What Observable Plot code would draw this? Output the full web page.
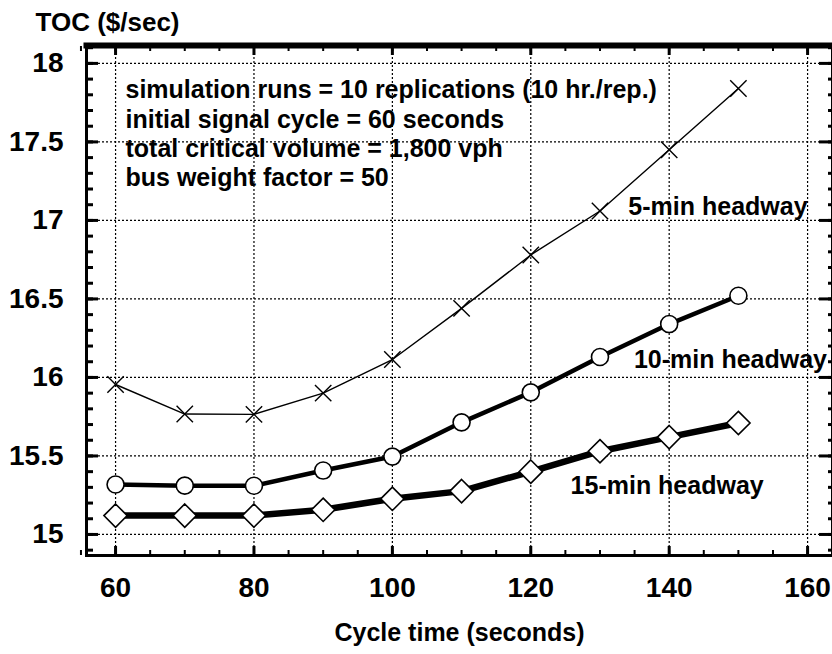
<!DOCTYPE html>
<html>
<head>
<meta charset="utf-8">
<script src="https://cdn.jsdelivr.net/npm/d3@7"></script>
<script src="https://cdn.jsdelivr.net/npm/@observablehq/plot@0.6"></script>
<style>
  html, body { margin: 0; padding: 0; background: #fff; }
  #chart svg { display: block; }
</style>
</head>
<body>
<div id="chart"></div>
<script>
// ---- data ----
const cycleTimes = [60, 70, 80, 90, 100, 110, 120, 130, 140, 150];
const toc5min  = [15.955, 15.767, 15.765, 15.90, 16.114, 16.44, 16.78, 17.06, 17.45, 17.84];
const toc10min = [15.318, 15.311, 15.31, 15.407, 15.496, 15.714, 15.905, 16.13, 16.34, 16.52];
const toc15min = [15.12, 15.12, 15.12, 15.157, 15.227, 15.276, 15.40, 15.53, 15.62, 15.71];

const seriesNames = ["5-min headway", "10-min headway", "15-min headway"];
const labelX = [134.1, 134.9, 125.75];
const labelY = [17.087, 16.108, 15.307];

const xTickLabels = [60, 80, 100, 120, 140, 160];
const yTickLabels = [15, 15.5, 16, 16.5, 17, 17.5, 18];
const noteLines = [
  "simulation runs = 10 replications (10 hr./rep.)",
  "initial signal cycle = 60 seconds",
  "total critical volume = 1,800 vph",
  "bus weight factor = 50"
];
const yTitle = "TOC ($/sec)";
const xTitle = "Cycle time (seconds)";

// ---- build rows ----
const rows5 = cycleTimes.map((x, i) => ({x, y: toc5min[i]}));
const rows10 = cycleTimes.map((x, i) => ({x, y: toc10min[i]}));
const rows15 = cycleTimes.map((x, i) => ({x, y: toc15min[i]}));
const labels = seriesNames.map((t, i) => ({t, x: labelX[i], y: labelY[i]}));

const xMinor = d3.range(55, 165, 5);
const yMinor = d3.range(149, 182, 1).map(d => d / 10);

const font = "'Liberation Sans', Arial, Helvetica, sans-serif";
const txt = {fontFamily: font, fontWeight: "bold", fill: "#000"};

const chart = Plot.plot({
  width: 832,
  height: 654,
  marginLeft: 86,
  marginRight: 0,
  marginTop: 45,
  marginBottom: 99,
  style: {fontFamily: font, fontWeight: "bold", background: "#fff", color: "#000"},
  x: {domain: [55.8, 163.6]},
  y: {domain: [14.866, 18.114]},
  marks: [
    Plot.gridX(xTickLabels, {stroke: "#000", strokeOpacity: 1, strokeWidth: 1.2, strokeDasharray: "2,2"}),
    Plot.gridY(yTickLabels, {stroke: "#000", strokeOpacity: 1, strokeWidth: 1.2, strokeDasharray: "2,2"}),
    // minor ticks (inward)
    Plot.axisX({anchor: "bottom", ticks: xMinor, tickSize: -5, strokeWidth: 2, text: null, label: null}),
    Plot.axisX({anchor: "top", ticks: xMinor, tickSize: -5, strokeWidth: 2, text: null, label: null}),
    Plot.axisY({anchor: "left", ticks: yMinor, tickSize: -7, strokeWidth: 3, text: null, label: null}),
    Plot.axisY({anchor: "right", ticks: yMinor, tickSize: -5, strokeWidth: 3, text: null, label: null}),
    // major ticks
    Plot.axisX({anchor: "bottom", ticks: xTickLabels, tickSize: -9, strokeWidth: 3, tickPadding: 31, fontSize: 28, label: null, ...txt}),
    Plot.axisX({anchor: "top", ticks: xTickLabels, tickSize: -9, strokeWidth: 3, text: null, label: null}),
    Plot.axisY({anchor: "left", ticks: yTickLabels, tickSize: -12, strokeWidth: 3, tickPadding: 35, fontSize: 28, tickFormat: d => String(d), label: null, ...txt}),
    Plot.axisY({anchor: "right", ticks: yTickLabels, tickSize: -14, strokeWidth: 3, text: null, label: null}),
    Plot.frame({strokeWidth: 3}),
    Plot.frame({anchor: "top", strokeWidth: 6}),
    // series
    Plot.line(rows5, {x: "x", y: "y", stroke: "#000", strokeWidth: 1.4}),
    Plot.line(rows10, {x: "x", y: "y", stroke: "#000", strokeWidth: 4.5}),
    Plot.line(rows15, {x: "x", y: "y", stroke: "#000", strokeWidth: 6.5}),
    Plot.dot(rows5, {x: "x", y: "y", symbol: "times", r: 7.5, stroke: "#000", strokeWidth: 1.4}),
    Plot.dot(rows10, {x: "x", y: "y", symbol: "circle", r: 8.5, fill: "#fff", stroke: "#000", strokeWidth: 1.6}),
    Plot.dot(rows15, {x: "x", y: "y", symbol: "diamond2", r: 10.5, fill: "#fff", stroke: "#000", strokeWidth: 1.6}),
    // series labels
    Plot.text(labels, {x: "x", y: "y", text: "t", textAnchor: "start", fontSize: 25, ...txt}),
    // notes
    Plot.text([noteLines.join("\n")], {frameAnchor: "top-left", dx: 39, dy: 32, textAnchor: "start", lineAnchor: "top", lineHeight: 1.17, fontSize: 25, ...txt}),
    // titles
    Plot.text([yTitle], {frameAnchor: "top-left", dx: -51, dy: -23, textAnchor: "start", lineAnchor: "middle", fontSize: 26, ...txt}),
    Plot.text([xTitle], {frameAnchor: "bottom", dx: 0, dy: 77, lineAnchor: "middle", fontSize: 25, ...txt})
  ]
});
document.getElementById("chart").appendChild(chart);
</script>
</body>
</html>
